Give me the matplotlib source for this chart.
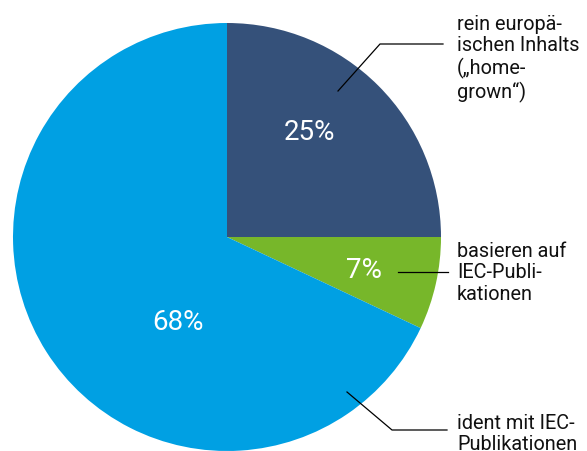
import numpy as np
import matplotlib
matplotlib.use("Agg")
from matplotlib import pyplot as plt

plt.rcParams['font.family'] = ['Roboto', 'DejaVu Sans']

# data
shares = [25, 7, 68]
pct_labels = ["25%", "7%", "68%"]
names = ["rein europä-\nischen Inhalts\n(„home-\ngrown“)",
         "basieren auf\nIEC-Publi-\nkationen",
         "ident mit IEC-\nPublikationen"]
colors = ["#35517a", "#77b72a", "#00a0e3"]

W, H = 587, 452


def py(y):
    # pixel y (top down) -> data y
    return H - y


fig = plt.figure(figsize=(W / 100, H / 100), dpi=100)
ax = fig.add_axes([0, 0, 1, 1])
ax.set_xlim(0, W)
ax.set_ylim(0, H)
ax.set_aspect("equal")
ax.axis("off")

cx, cy, r = 227, py(238), 214
ax.pie(shares, colors=colors, startangle=90, counterclock=False,
       center=(cx, cy), radius=r, wedgeprops=dict(linewidth=0))
ax.set_xlim(0, W)
ax.set_ylim(0, H)

# percentage labels
pct_pos = [(309, 133), (364, 270), (178, 323)]
for txt, (x, y) in zip(pct_labels, pct_pos):
    ax.text(x, py(y), txt, color="white", fontsize=20,
            ha="center", va="center")

# leader lines
leaders = [
    [(338, 92), (380, 45), (443, 45)],
    [(398, 273), (448, 273)],
    [(347, 393), (392, 431), (447, 431)],
]
for pts in leaders:
    xs = [p[0] for p in pts]
    ys = [py(p[1]) for p in pts]
    ax.plot(xs, ys, color="black", linewidth=0.9)

# category labels
name_pos = [(457, 59), (457, 273), (457, 434)]
for txt, (x, y) in zip(names, name_pos):
    ax.text(x, py(y), txt, color="#111111", fontsize=14.3, ha="left", va="center",
            linespacing=1.18)

fig.savefig("out.png", dpi=100)
